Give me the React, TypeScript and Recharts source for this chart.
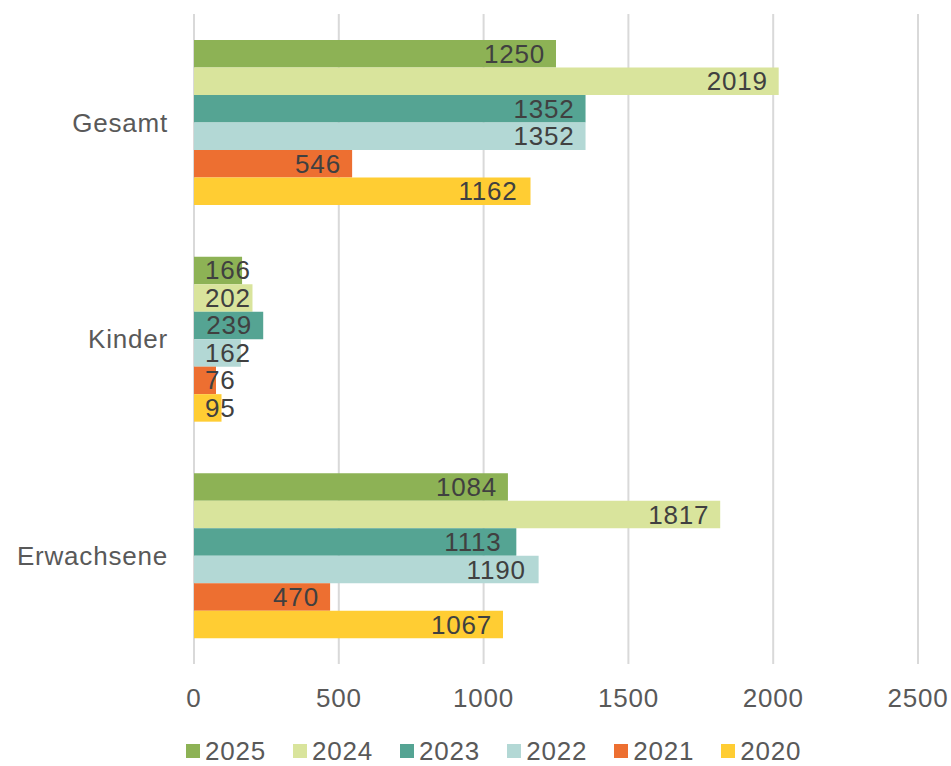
import React from 'react'
import {
  BarChart,
  Bar,
  XAxis,
  YAxis,
  CartesianGrid,
  LabelList,
} from 'recharts'

const categories = ['Gesamt', 'Kinder', 'Erwachsene']
const years = ['2025', '2024', '2023', '2022', '2021', '2020']
const values2025 = [1250, 166, 1084]
const values2024 = [2019, 202, 1817]
const values2023 = [1352, 239, 1113]
const values2022 = [1352, 162, 1190]
const values2021 = [546, 76, 470]
const values2020 = [1162, 95, 1067]
const xTicks = [0, 500, 1000, 1500, 2000, 2500]

const COLORS = ['#8db255', '#d9e49c', '#55a493', '#b3d8d5', '#ed6f31', '#ffcd33']
const FONT = '"Liberation Sans", Arial, sans-serif'

const seriesValues = [values2025, values2024, values2023, values2022, values2021, values2020]

const data = categories.map((name, i) => {
  const row: any = { name }
  years.forEach((y, k) => {
    row[y] = seriesValues[k][i]
  })
  return row
})

// Excel-style "inside end" label, pushed right when the bar is too short
const renderLabel = (props: any) => {
  const { x, y, width, height, value } = props
  const w = String(value).length * 15
  const left = Math.max(x + width - 12 - w, x + 11)
  return (
    <text
      x={left}
      y={y + height / 2 + 9}
      textAnchor="start"
      fill="#404040"
      fontSize={26}
      fontFamily={FONT}
      letterSpacing={0.8}
    >
      {value}
    </text>
  )
}

export default function App() {
  return (
    <div style={{ position: 'absolute', left: 0, top: 0, width: 951, height: 766, background: '#fff' }}>
      <BarChart
        width={951}
        height={766}
        data={data}
        layout="vertical"
        margin={{ top: 14, right: 33, bottom: 0, left: 0 }}
        barSize={27.5}
        barGap={0}
      >
        <CartesianGrid horizontal={false} stroke="#d9d9d9" strokeWidth={2} />
        <XAxis
          type="number"
          domain={[0, 2500]}
          ticks={xTicks}
          axisLine={false}
          tickLine={false}
          tickSize={0}
          tickMargin={25}
          height={102}
          tick={{ fill: '#595959', fontSize: 26, fontFamily: FONT, letterSpacing: 0.8 }}
        />
        <YAxis
          type="category"
          dataKey="name"
          width={194}
          axisLine={false}
          tickLine={false}
          tickSize={0}
          tickMargin={26}
          tick={{ fill: '#595959', fontSize: 26, fontFamily: FONT, letterSpacing: 0.8 }}
        />
        {years.map((y, k) => (
          <Bar key={y} dataKey={y} fill={COLORS[k]} isAnimationActive={false}>
            <LabelList dataKey={y} content={renderLabel} />
          </Bar>
        ))}
      </BarChart>
      <div
        style={{
          position: 'absolute',
          left: 186,
          top: 736,
          display: 'flex',
          fontFamily: FONT,
          fontSize: 26,
          letterSpacing: 0.8,
          color: '#595959',
          lineHeight: '30px',
        }}
      >
        {years.map((y, k) => (
          <div key={y} style={{ display: 'flex', alignItems: 'center', marginRight: 27 }}>
            <span style={{ width: 14, height: 14, background: COLORS[k], marginRight: 5, display: 'inline-block' }} />
            <span>{y}</span>
          </div>
        ))}
      </div>
    </div>
  )
}
